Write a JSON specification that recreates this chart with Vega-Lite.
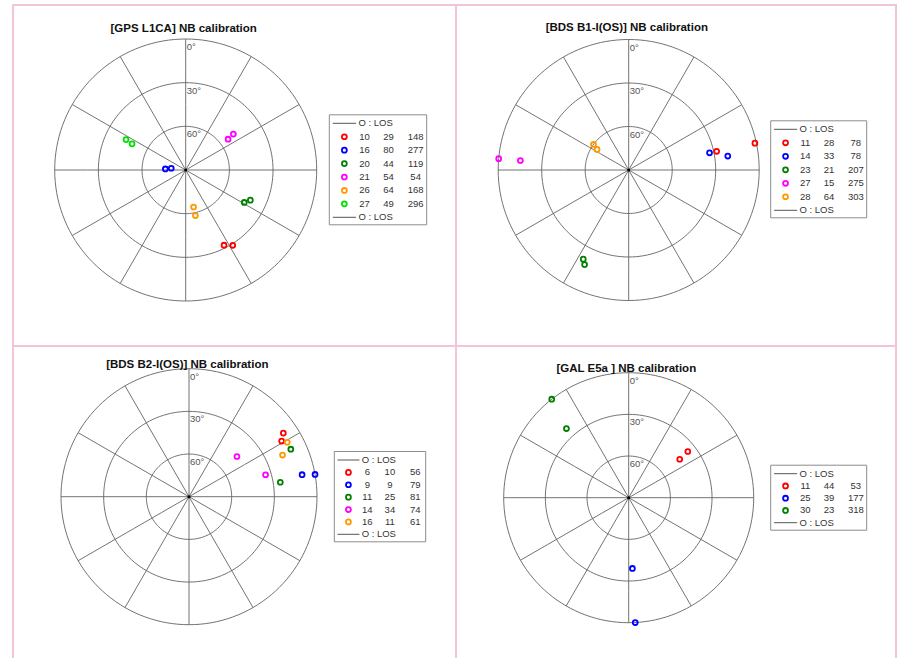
{
  "$schema": "https://vega.github.io/schema/vega-lite/v6.json",
  "padding": {"left": 12, "top": 4, "right": 3, "bottom": -3},
  "config": {
    "view": {"stroke": "#f2c4da", "strokeWidth": 2},
    "font": "Liberation Sans",
    "text": {"font": "Liberation Sans"},
    "title": {"font": "Liberation Sans", "fontSize": 11.5, "fontWeight": "bold", "color": "#111111", "anchor": "middle", "frame": "group"}
  },
  "datasets": {
    "points": [
      {"panel": "GPS", "prn": 10, "el": 32, "az": 153}, {"panel": "GPS", "prn": 10, "el": 29, "az": 148},
      {"panel": "GPS", "prn": 16, "el": 76, "az": 273}, {"panel": "GPS", "prn": 16, "el": 80, "az": 277},
      {"panel": "GPS", "prn": 20, "el": 44, "az": 119}, {"panel": "GPS", "prn": 20, "el": 41, "az": 115},
      {"panel": "GPS", "prn": 21, "el": 54, "az": 54}, {"panel": "GPS", "prn": 21, "el": 49, "az": 53},
      {"panel": "GPS", "prn": 26, "el": 64, "az": 168}, {"panel": "GPS", "prn": 26, "el": 58, "az": 168},
      {"panel": "GPS", "prn": 27, "el": 44, "az": 297}, {"panel": "GPS", "prn": 27, "el": 49, "az": 296},
      {"panel": "B1", "prn": 11, "el": 28, "az": 78}, {"panel": "B1", "prn": 11, "el": 1, "az": 78},
      {"panel": "B1", "prn": 14, "el": 33, "az": 78}, {"panel": "B1", "prn": 14, "el": 21, "az": 82},
      {"panel": "B1", "prn": 23, "el": 21, "az": 207}, {"panel": "B1", "prn": 23, "el": 18, "az": 205},
      {"panel": "B1", "prn": 27, "el": 0, "az": 275}, {"panel": "B1", "prn": 27, "el": 15, "az": 275},
      {"panel": "B1", "prn": 28, "el": 60, "az": 306}, {"panel": "B1", "prn": 28, "el": 64, "az": 303},
      {"panel": "B2", "prn": 6, "el": 10, "az": 56}, {"panel": "B2", "prn": 6, "el": 14, "az": 59},
      {"panel": "B2", "prn": 9, "el": 9, "az": 79}, {"panel": "B2", "prn": 9, "el": 0, "az": 80},
      {"panel": "B2", "prn": 11, "el": 11, "az": 65}, {"panel": "B2", "prn": 11, "el": 25, "az": 81},
      {"panel": "B2", "prn": 14, "el": 46, "az": 50}, {"panel": "B2", "prn": 14, "el": 34, "az": 74},
      {"panel": "B2", "prn": 16, "el": 11, "az": 61}, {"panel": "B2", "prn": 16, "el": 18, "az": 66},
      {"panel": "GAL", "prn": 11, "el": 44, "az": 53}, {"panel": "GAL", "prn": 11, "el": 36, "az": 52},
      {"panel": "GAL", "prn": 25, "el": 39, "az": 177}, {"panel": "GAL", "prn": 25, "el": 0, "az": 177},
      {"panel": "GAL", "prn": 30, "el": 0, "az": 322}, {"panel": "GAL", "prn": 30, "el": 23, "az": 318}
    ],
    "legend": [
      {"panel": "GPS", "prn": 10, "el": 29, "az": 148}, {"panel": "GPS", "prn": 16, "el": 80, "az": 277},
      {"panel": "GPS", "prn": 20, "el": 44, "az": 119}, {"panel": "GPS", "prn": 21, "el": 54, "az": 54},
      {"panel": "GPS", "prn": 26, "el": 64, "az": 168}, {"panel": "GPS", "prn": 27, "el": 49, "az": 296},
      {"panel": "B1", "prn": 11, "el": 28, "az": 78}, {"panel": "B1", "prn": 14, "el": 33, "az": 78},
      {"panel": "B1", "prn": 23, "el": 21, "az": 207}, {"panel": "B1", "prn": 27, "el": 15, "az": 275},
      {"panel": "B1", "prn": 28, "el": 64, "az": 303},
      {"panel": "B2", "prn": 6, "el": 10, "az": 56}, {"panel": "B2", "prn": 9, "el": 9, "az": 79},
      {"panel": "B2", "prn": 11, "el": 25, "az": 81}, {"panel": "B2", "prn": 14, "el": 34, "az": 74},
      {"panel": "B2", "prn": 16, "el": 11, "az": 61},
      {"panel": "GAL", "prn": 11, "el": 44, "az": 53}, {"panel": "GAL", "prn": 25, "el": 39, "az": 177},
      {"panel": "GAL", "prn": 30, "el": 23, "az": 318}
    ],
    "los": [{"entry": "head", "label": "O : LOS"}, {"entry": "foot", "label": "O : LOS"}],
    "rings": [{"el": 0, "label": "0°"}, {"el": 30, "label": "30°"}, {"el": 60, "label": "60°"}],
    "zenith": [{"el": 90}],
    "frame": [{"item": "legend"}]
  },
  "columns": 2,
  "spacing": 0,
  "bounds": "flush",
  "resolve": {"scale": {"color": "independent", "x": "independent", "y": "independent"}},
  "concat": [
    {
      "width": 443,
      "height": 341,
      "title": {"text": "[GPS L1CA] NB calibration", "dx": -50.8, "offset": -29.3},
      "projection": {"type": "azimuthalEquidistant", "rotate": [180, -90, 0], "reflectX": true, "extent": [[41.7, 34], [303.7, 296]]},
      "layer": [
        {
          "data": {"graticule": {"extentMajor": [[-180, 0], [180, 90]], "extentMinor": [[-180, 0], [180, 90]], "stepMajor": [30, 90], "stepMinor": [30, 30]}},
          "mark": {"type": "geoshape", "filled": false, "stroke": "#636363", "strokeWidth": 0.9}
        },
        {
          "data": {"name": "rings"},
          "mark": {"type": "text", "align": "left", "baseline": "top", "dx": 1, "dy": 3, "fontSize": 9.5, "color": "#555555"},
          "encoding": {"longitude": {"datum": 0}, "latitude": {"field": "el", "type": "quantitative"}, "text": {"field": "label", "type": "nominal"}}
        },
        {
          "data": {"name": "zenith"},
          "mark": {"type": "circle", "size": 9, "color": "#000000", "opacity": 1},
          "encoding": {"longitude": {"datum": 0}, "latitude": {"field": "el", "type": "quantitative"}}
        },
        {
          "data": {"name": "points"},
          "transform": [{"filter": "datum.panel === 'GPS'"}],
          "mark": {"type": "point", "shape": "circle", "filled": false, "size": 24, "strokeWidth": 1.8, "opacity": 1},
          "encoding": {
            "longitude": {"field": "az", "type": "quantitative"},
            "latitude": {"field": "el", "type": "quantitative"},
            "color": {"field": "prn", "type": "nominal", "legend": null, "scale": {"domain": [10, 16, 20, 21, 26, 27], "range": ["#ff0000", "#0000ff", "#008000", "#ff00ff", "#ff9900", "#00e000"]}}
          }
        },
        {
          "data": {"name": "frame"},
          "mark": {"type": "rect", "filled": false, "stroke": "#8c8c8c", "strokeWidth": 1, "yOffset": -8.5, "y2Offset": 7.5},
          "encoding": {
            "x": {"datum": 0, "type": "quantitative", "axis": null, "scale": {"type": "linear", "domain": [0, 97], "range": [316.3, 413.7], "zero": false, "nice": false}},
            "x2": {"datum": 97},
            "y": {"datum": "head", "type": "ordinal", "axis": null, "scale": {"type": "point", "domain": ["head", 10, 16, 20, 21, 26, 27, "foot"], "range": [118.3, 212.3], "padding": 0}},
            "y2": {"datum": "foot"}
          }
        },
        {
          "data": {"name": "los"},
          "encoding": {"y": {"field": "entry", "type": "ordinal", "axis": null}},
          "layer": [
            {"mark": {"type": "rule", "stroke": "#555555", "strokeWidth": 1}, "encoding": {"x": {"datum": 3.4, "type": "quantitative", "axis": null}, "x2": {"datum": 26.7}}},
            {"mark": {"type": "text", "align": "left", "baseline": "middle", "fontSize": 9.5, "color": "#333333"}, "encoding": {"x": {"datum": 29, "type": "quantitative", "axis": null}, "text": {"field": "label", "type": "nominal"}}}
          ]
        },
        {
          "data": {"name": "legend"},
          "transform": [{"filter": "datum.panel === 'GPS'"}],
          "encoding": {"y": {"field": "prn", "type": "ordinal", "axis": null}},
          "layer": [
            {"mark": {"type": "point", "shape": "circle", "filled": false, "size": 24, "strokeWidth": 1.8, "opacity": 1}, "encoding": {"x": {"datum": 15, "type": "quantitative", "axis": null}, "color": {"field": "prn", "type": "nominal", "legend": null}}},
            {"mark": {"type": "text", "align": "center", "baseline": "middle", "fontSize": 9.5, "color": "#333333"}, "encoding": {"x": {"datum": 35, "type": "quantitative", "axis": null}, "text": {"field": "prn", "type": "nominal"}}},
            {"mark": {"type": "text", "align": "center", "baseline": "middle", "fontSize": 9.5, "color": "#333333"}, "encoding": {"x": {"datum": 59, "type": "quantitative", "axis": null}, "text": {"field": "el", "type": "nominal"}}},
            {"mark": {"type": "text", "align": "center", "baseline": "middle", "fontSize": 9.5, "color": "#333333"}, "encoding": {"x": {"datum": 86, "type": "quantitative", "axis": null}, "text": {"field": "az", "type": "nominal"}}}
          ]
        }
      ]
    },
    {
      "width": 440,
      "height": 341,
      "title": {"text": "[BDS B1-I(OS)] NB calibration", "dx": -49.2, "offset": -28.8},
      "projection": {"type": "azimuthalEquidistant", "rotate": [180, -90, 0], "reflectX": true, "extent": [[42.2, 34.5], [303.2, 295.5]]},
      "layer": [
        {
          "data": {"graticule": {"extentMajor": [[-180, 0], [180, 90]], "extentMinor": [[-180, 0], [180, 90]], "stepMajor": [30, 90], "stepMinor": [30, 30]}},
          "mark": {"type": "geoshape", "filled": false, "stroke": "#636363", "strokeWidth": 0.9}
        },
        {
          "data": {"name": "rings"},
          "mark": {"type": "text", "align": "left", "baseline": "top", "dx": 1, "dy": 3, "fontSize": 9.5, "color": "#555555"},
          "encoding": {"longitude": {"datum": 0}, "latitude": {"field": "el", "type": "quantitative"}, "text": {"field": "label", "type": "nominal"}}
        },
        {
          "data": {"name": "zenith"},
          "mark": {"type": "circle", "size": 9, "color": "#000000", "opacity": 1},
          "encoding": {"longitude": {"datum": 0}, "latitude": {"field": "el", "type": "quantitative"}}
        },
        {
          "data": {"name": "points"},
          "transform": [{"filter": "datum.panel === 'B1'"}],
          "mark": {"type": "point", "shape": "circle", "filled": false, "size": 24, "strokeWidth": 1.8, "opacity": 1},
          "encoding": {
            "longitude": {"field": "az", "type": "quantitative"},
            "latitude": {"field": "el", "type": "quantitative"},
            "color": {"field": "prn", "type": "nominal", "legend": null, "scale": {"domain": [11, 14, 23, 27, 28], "range": ["#ff0000", "#0000ff", "#008000", "#ff00ff", "#ff9900"]}}
          }
        },
        {
          "data": {"name": "frame"},
          "mark": {"type": "rect", "filled": false, "stroke": "#8c8c8c", "strokeWidth": 1, "yOffset": -8.5, "y2Offset": 7.5},
          "encoding": {
            "x": {"datum": 0, "type": "quantitative", "axis": null, "scale": {"type": "linear", "domain": [0, 97], "range": [314.7, 410.7], "zero": false, "nice": false}},
            "x2": {"datum": 97},
            "y": {"datum": "head", "type": "ordinal", "axis": null, "scale": {"type": "point", "domain": ["head", 11, 14, 23, 27, 28, "foot"], "range": [124.3, 205.3], "padding": 0}},
            "y2": {"datum": "foot"}
          }
        },
        {
          "data": {"name": "los"},
          "encoding": {"y": {"field": "entry", "type": "ordinal", "axis": null}},
          "layer": [
            {"mark": {"type": "rule", "stroke": "#555555", "strokeWidth": 1}, "encoding": {"x": {"datum": 3.4, "type": "quantitative", "axis": null}, "x2": {"datum": 26.7}}},
            {"mark": {"type": "text", "align": "left", "baseline": "middle", "fontSize": 9.5, "color": "#333333"}, "encoding": {"x": {"datum": 29, "type": "quantitative", "axis": null}, "text": {"field": "label", "type": "nominal"}}}
          ]
        },
        {
          "data": {"name": "legend"},
          "transform": [{"filter": "datum.panel === 'B1'"}],
          "encoding": {"y": {"field": "prn", "type": "ordinal", "axis": null}},
          "layer": [
            {"mark": {"type": "point", "shape": "circle", "filled": false, "size": 24, "strokeWidth": 1.8, "opacity": 1}, "encoding": {"x": {"datum": 15, "type": "quantitative", "axis": null}, "color": {"field": "prn", "type": "nominal", "legend": null}}},
            {"mark": {"type": "text", "align": "center", "baseline": "middle", "fontSize": 9.5, "color": "#333333"}, "encoding": {"x": {"datum": 35, "type": "quantitative", "axis": null}, "text": {"field": "prn", "type": "nominal"}}},
            {"mark": {"type": "text", "align": "center", "baseline": "middle", "fontSize": 9.5, "color": "#333333"}, "encoding": {"x": {"datum": 59, "type": "quantitative", "axis": null}, "text": {"field": "el", "type": "nominal"}}},
            {"mark": {"type": "text", "align": "center", "baseline": "middle", "fontSize": 9.5, "color": "#333333"}, "encoding": {"x": {"datum": 86, "type": "quantitative", "axis": null}, "text": {"field": "az", "type": "nominal"}}}
          ]
        }
      ]
    },
    {
      "width": 443,
      "height": 314,
      "title": {"text": "[BDS B2-I(OS)] NB calibration", "dx": -47.2, "offset": -24.6},
      "projection": {"type": "azimuthalEquidistant", "rotate": [180, -90, 0], "reflectX": true, "extent": [[48, 22.7], [304, 278.7]]},
      "layer": [
        {
          "data": {"graticule": {"extentMajor": [[-180, 0], [180, 90]], "extentMinor": [[-180, 0], [180, 90]], "stepMajor": [30, 90], "stepMinor": [30, 30]}},
          "mark": {"type": "geoshape", "filled": false, "stroke": "#636363", "strokeWidth": 0.9}
        },
        {
          "data": {"name": "rings"},
          "mark": {"type": "text", "align": "left", "baseline": "top", "dx": 1, "dy": 3, "fontSize": 9.5, "color": "#555555"},
          "encoding": {"longitude": {"datum": 0}, "latitude": {"field": "el", "type": "quantitative"}, "text": {"field": "label", "type": "nominal"}}
        },
        {
          "data": {"name": "zenith"},
          "mark": {"type": "circle", "size": 9, "color": "#000000", "opacity": 1},
          "encoding": {"longitude": {"datum": 0}, "latitude": {"field": "el", "type": "quantitative"}}
        },
        {
          "data": {"name": "points"},
          "transform": [{"filter": "datum.panel === 'B2'"}],
          "mark": {"type": "point", "shape": "circle", "filled": false, "size": 24, "strokeWidth": 1.8, "opacity": 1},
          "encoding": {
            "longitude": {"field": "az", "type": "quantitative"},
            "latitude": {"field": "el", "type": "quantitative"},
            "color": {"field": "prn", "type": "nominal", "legend": null, "scale": {"domain": [6, 9, 11, 14, 16], "range": ["#ff0000", "#0000ff", "#008000", "#ff00ff", "#ff9900"]}}
          }
        },
        {
          "data": {"name": "frame"},
          "mark": {"type": "rect", "filled": false, "stroke": "#8c8c8c", "strokeWidth": 1, "yOffset": -8.5, "y2Offset": 7.5},
          "encoding": {
            "x": {"datum": 0, "type": "quantitative", "axis": null, "scale": {"type": "linear", "domain": [0, 97], "range": [321.3, 412.7], "zero": false, "nice": false}},
            "x2": {"datum": 97},
            "y": {"datum": "head", "type": "ordinal", "axis": null, "scale": {"type": "point", "domain": ["head", 6, 9, 11, 14, 16, "foot"], "range": [114, 188.3], "padding": 0}},
            "y2": {"datum": "foot"}
          }
        },
        {
          "data": {"name": "los"},
          "encoding": {"y": {"field": "entry", "type": "ordinal", "axis": null}},
          "layer": [
            {"mark": {"type": "rule", "stroke": "#555555", "strokeWidth": 1}, "encoding": {"x": {"datum": 3.4, "type": "quantitative", "axis": null}, "x2": {"datum": 26.7}}},
            {"mark": {"type": "text", "align": "left", "baseline": "middle", "fontSize": 9.5, "color": "#333333"}, "encoding": {"x": {"datum": 29, "type": "quantitative", "axis": null}, "text": {"field": "label", "type": "nominal"}}}
          ]
        },
        {
          "data": {"name": "legend"},
          "transform": [{"filter": "datum.panel === 'B2'"}],
          "encoding": {"y": {"field": "prn", "type": "ordinal", "axis": null}},
          "layer": [
            {"mark": {"type": "point", "shape": "circle", "filled": false, "size": 24, "strokeWidth": 1.8, "opacity": 1}, "encoding": {"x": {"datum": 15, "type": "quantitative", "axis": null}, "color": {"field": "prn", "type": "nominal", "legend": null}}},
            {"mark": {"type": "text", "align": "center", "baseline": "middle", "fontSize": 9.5, "color": "#333333"}, "encoding": {"x": {"datum": 35, "type": "quantitative", "axis": null}, "text": {"field": "prn", "type": "nominal"}}},
            {"mark": {"type": "text", "align": "center", "baseline": "middle", "fontSize": 9.5, "color": "#333333"}, "encoding": {"x": {"datum": 59, "type": "quantitative", "axis": null}, "text": {"field": "el", "type": "nominal"}}},
            {"mark": {"type": "text", "align": "center", "baseline": "middle", "fontSize": 9.5, "color": "#333333"}, "encoding": {"x": {"datum": 86, "type": "quantitative", "axis": null}, "text": {"field": "az", "type": "nominal"}}}
          ]
        }
      ]
    },
    {
      "width": 440,
      "height": 314,
      "title": {"text": "[GAL E5a ] NB calibration", "dx": -49.7, "offset": -28},
      "projection": {"type": "azimuthalEquidistant", "rotate": [180, -90, 0], "reflectX": true, "extent": [[47.7, 26.7], [297.7, 276.7]]},
      "layer": [
        {
          "data": {"graticule": {"extentMajor": [[-180, 0], [180, 90]], "extentMinor": [[-180, 0], [180, 90]], "stepMajor": [30, 90], "stepMinor": [30, 30]}},
          "mark": {"type": "geoshape", "filled": false, "stroke": "#636363", "strokeWidth": 0.9}
        },
        {
          "data": {"name": "rings"},
          "mark": {"type": "text", "align": "left", "baseline": "top", "dx": 1, "dy": 3, "fontSize": 9.5, "color": "#555555"},
          "encoding": {"longitude": {"datum": 0}, "latitude": {"field": "el", "type": "quantitative"}, "text": {"field": "label", "type": "nominal"}}
        },
        {
          "data": {"name": "zenith"},
          "mark": {"type": "circle", "size": 9, "color": "#000000", "opacity": 1},
          "encoding": {"longitude": {"datum": 0}, "latitude": {"field": "el", "type": "quantitative"}}
        },
        {
          "data": {"name": "points"},
          "transform": [{"filter": "datum.panel === 'GAL'"}],
          "mark": {"type": "point", "shape": "circle", "filled": false, "size": 24, "strokeWidth": 1.8, "opacity": 1},
          "encoding": {
            "longitude": {"field": "az", "type": "quantitative"},
            "latitude": {"field": "el", "type": "quantitative"},
            "color": {"field": "prn", "type": "nominal", "legend": null, "scale": {"domain": [11, 25, 30], "range": ["#ff0000", "#0000ff", "#008000"]}}
          }
        },
        {
          "data": {"name": "frame"},
          "mark": {"type": "rect", "filled": false, "stroke": "#8c8c8c", "strokeWidth": 1, "yOffset": -8.5, "y2Offset": 7.5},
          "encoding": {
            "x": {"datum": 0, "type": "quantitative", "axis": null, "scale": {"type": "linear", "domain": [0, 97], "range": [314.7, 410.7], "zero": false, "nice": false}},
            "x2": {"datum": 97},
            "y": {"datum": "head", "type": "ordinal", "axis": null, "scale": {"type": "point", "domain": ["head", 11, 25, 30, "foot"], "range": [127.7, 176.7], "padding": 0}},
            "y2": {"datum": "foot"}
          }
        },
        {
          "data": {"name": "los"},
          "encoding": {"y": {"field": "entry", "type": "ordinal", "axis": null}},
          "layer": [
            {"mark": {"type": "rule", "stroke": "#555555", "strokeWidth": 1}, "encoding": {"x": {"datum": 3.4, "type": "quantitative", "axis": null}, "x2": {"datum": 26.7}}},
            {"mark": {"type": "text", "align": "left", "baseline": "middle", "fontSize": 9.5, "color": "#333333"}, "encoding": {"x": {"datum": 29, "type": "quantitative", "axis": null}, "text": {"field": "label", "type": "nominal"}}}
          ]
        },
        {
          "data": {"name": "legend"},
          "transform": [{"filter": "datum.panel === 'GAL'"}],
          "encoding": {"y": {"field": "prn", "type": "ordinal", "axis": null}},
          "layer": [
            {"mark": {"type": "point", "shape": "circle", "filled": false, "size": 24, "strokeWidth": 1.8, "opacity": 1}, "encoding": {"x": {"datum": 15, "type": "quantitative", "axis": null}, "color": {"field": "prn", "type": "nominal", "legend": null}}},
            {"mark": {"type": "text", "align": "center", "baseline": "middle", "fontSize": 9.5, "color": "#333333"}, "encoding": {"x": {"datum": 35, "type": "quantitative", "axis": null}, "text": {"field": "prn", "type": "nominal"}}},
            {"mark": {"type": "text", "align": "center", "baseline": "middle", "fontSize": 9.5, "color": "#333333"}, "encoding": {"x": {"datum": 59, "type": "quantitative", "axis": null}, "text": {"field": "el", "type": "nominal"}}},
            {"mark": {"type": "text", "align": "center", "baseline": "middle", "fontSize": 9.5, "color": "#333333"}, "encoding": {"x": {"datum": 86, "type": "quantitative", "axis": null}, "text": {"field": "az", "type": "nominal"}}}
          ]
        }
      ]
    }
  ]
}
